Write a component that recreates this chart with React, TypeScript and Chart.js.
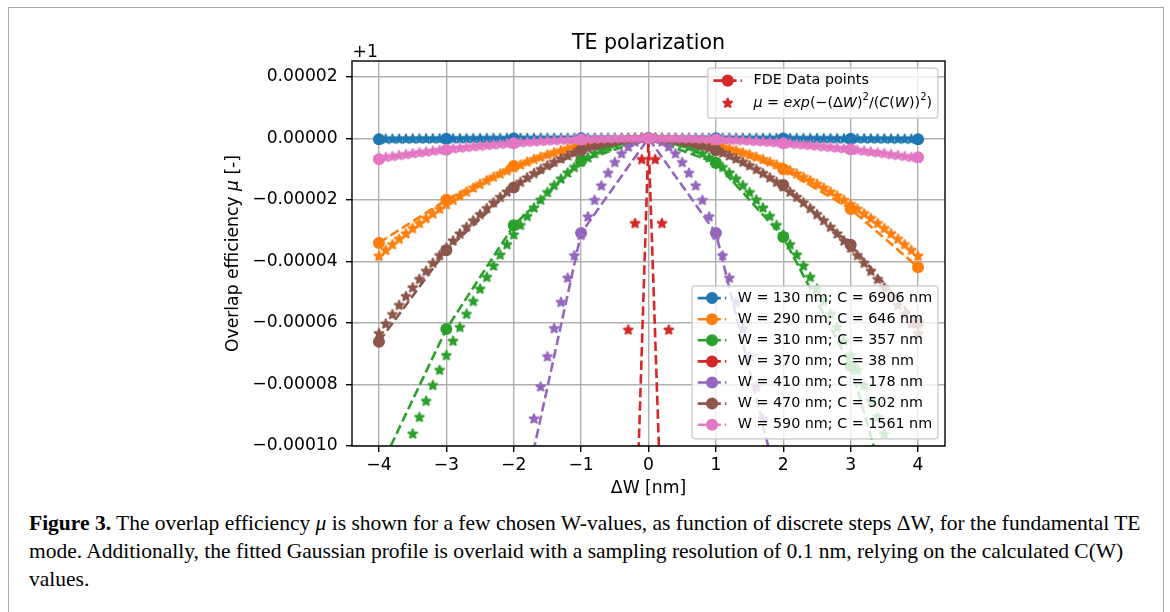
import React, { useEffect, useRef } from "react";
import { Chart, registerables } from "chart.js";

Chart.register(...registerables);

// ---------------- data ----------------
// All y values are (μ − 1) in units of 1e-6 (the axis carries the "+1" offset).
const W_VALUES = [130, 290, 310, 370, 410, 470, 590]; // nm
const C_VALUES = [6906, 646, 357, 38, 178, 502, 1561]; // nm
const COLORS = ["#1f77b4", "#ff7f0e", "#2ca02c", "#d62728", "#9467bd", "#8c564b", "#e377c2"];

const X_TICKS = [-4, -3, -2, -1, 0, 1, 2, 3, 4];
const Y_TICKS = [-100, -80, -60, -40, -20, 0, 20];

// FDE data points, ΔW in nm
const DW_FDE = [-4, -3, -2, -1, 0, 1, 2, 3, 4];
const FDE_W130 = [-0.34, -0.19, -0.08, -0.02, 0, -0.02, -0.08, -0.19, -0.34];
const FDE_W290 = [-34.0, -20.0, -9.0, -2.6, 0, -2.4, -10.1, -23.0, -41.9];
const FDE_W310 = [-108, -62.0, -28.3, -7.3, 0, -8.0, -32.1, -74, -150];
const FDE_W370 = [-10500, -6000, -2700, -690, 0, -650, -2700, -6000, -10500];
const FDE_W410 = [-505, -284, -131, -30.8, 0, -30.8, -120, -284, -505];
const FDE_W470 = [-66.1, -36.4, -16.0, -3.9, 0, -3.9, -15.2, -34.6, -60.0];
const FDE_W590 = [-6.8, -3.7, -1.6, -0.4, 0, -0.4, -1.6, -3.6, -6.2];

// Gaussian profile samples (0.1 nm resolution)
const DW_FIT = [
  -4.0, -3.9, -3.8, -3.7, -3.6, -3.5, -3.4, -3.3, -3.2, -3.1,
  -3.0, -2.9, -2.8, -2.7, -2.6, -2.5, -2.4, -2.3, -2.2, -2.1,
  -2.0, -1.9, -1.8, -1.7, -1.6, -1.5, -1.4, -1.3, -1.2, -1.1,
  -1.0, -0.9, -0.8, -0.7, -0.6, -0.5, -0.4, -0.3, -0.2, -0.1,
  0.0,
  0.1, 0.2, 0.3, 0.4, 0.5, 0.6, 0.7, 0.8, 0.9, 1.0,
  1.1, 1.2, 1.3, 1.4, 1.5, 1.6, 1.7, 1.8, 1.9, 2.0,
  2.1, 2.2, 2.3, 2.4, 2.5, 2.6, 2.7, 2.8, 2.9, 3.0,
  3.1, 3.2, 3.3, 3.4, 3.5, 3.6, 3.7, 3.8, 3.9, 4.0,
];
const FIT_W130 = [
  -0.34, -0.32, -0.30, -0.29, -0.27, -0.26, -0.24, -0.23, -0.21, -0.20,
  -0.19, -0.18, -0.16, -0.15, -0.14, -0.13, -0.12, -0.11, -0.10, -0.09,
  -0.08, -0.08, -0.07, -0.06, -0.05, -0.05, -0.04, -0.04, -0.03, -0.03,
  -0.02, -0.02, -0.01, -0.01, -0.01, -0.01, 0, 0, 0, 0,
  0,
  0, 0, 0, 0, -0.01, -0.01, -0.01, -0.01, -0.02, -0.02,
  -0.03, -0.03, -0.04, -0.04, -0.05, -0.05, -0.06, -0.07, -0.08, -0.08,
  -0.09, -0.10, -0.11, -0.12, -0.13, -0.14, -0.15, -0.16, -0.18, -0.19,
  -0.20, -0.21, -0.23, -0.24, -0.26, -0.27, -0.29, -0.30, -0.32, -0.34,
];
const FIT_W290 = [
  -38.34, -36.44, -34.60, -32.80, -31.05, -29.35, -27.70, -26.09, -24.54, -23.03,
  -21.56, -20.15, -18.78, -17.47, -16.20, -14.98, -13.80, -12.67, -11.60, -10.57,
  -9.58, -8.65, -7.76, -6.92, -6.13, -5.39, -4.70, -4.05, -3.45, -2.90,
  -2.40, -1.94, -1.53, -1.17, -0.86, -0.60, -0.38, -0.22, -0.10, -0.02,
  0,
  -0.02, -0.10, -0.22, -0.38, -0.60, -0.86, -1.17, -1.53, -1.94, -2.40,
  -2.90, -3.45, -4.05, -4.70, -5.39, -6.13, -6.92, -7.76, -8.65, -9.58,
  -10.57, -11.60, -12.67, -13.80, -14.98, -16.20, -17.47, -18.78, -20.15, -21.56,
  -23.03, -24.54, -26.09, -27.70, -29.35, -31.05, -32.80, -34.60, -36.44, -38.34,
];
const FIT_W310 = [
  null, null, null, null, null, -96.11, -90.70, -85.44, -80.34, -75.40,
  -70.61, -65.98, -61.51, -57.20, -53.04, -49.04, -45.19, -41.51, -37.97, -34.60,
  -31.38, -28.32, -25.42, -22.67, -20.09, -17.65, -15.38, -13.26, -11.30, -9.49,
  -7.85, -6.36, -5.02, -3.84, -2.82, -1.96, -1.26, -0.71, -0.31, -0.08,
  0,
  -0.08, -0.31, -0.71, -1.26, -1.96, -2.82, -3.84, -5.02, -6.36, -7.85,
  -9.49, -11.30, -13.26, -15.38, -17.65, -20.09, -22.67, -25.42, -28.32, -31.38,
  -34.60, -37.97, -41.51, -45.19, -49.04, -53.04, -57.20, -61.51, -65.98, -70.61,
  -75.40, -80.34, -85.44, -90.70, -96.11, null, null, null, null, null,
];
const FIT_W370 = [
  null, null, null, null, null, null, null, null, null, null,
  null, null, null, null, null, null, null, null, null, null,
  null, null, null, null, null, null, null, null, null, null,
  null, null, null, null, null, null, null, -62.33, -27.70, -6.93,
  0,
  -6.93, -27.70, -62.33, null, null, null, null, null, null, null,
  null, null, null, null, null, null, null, null, null, null,
  null, null, null, null, null, null, null, null, null, null,
  null, null, null, null, null, null, null, null, null, null,
];
const FIT_W410 = [
  null, null, null, null, null, null, null, null, null, null,
  null, null, null, null, null, null, null, null, null, null,
  null, null, null, -91.21, -80.79, -71.01, -61.86, -53.34, -45.45, -38.19,
  -31.56, -25.56, -20.20, -15.46, -11.36, -7.89, -5.05, -2.84, -1.26, -0.32,
  0,
  -0.32, -1.26, -2.84, -5.05, -7.89, -11.36, -15.46, -20.20, -25.56, -31.56,
  -38.19, -45.45, -53.34, -61.86, -71.01, -80.79, -91.21, null, null, null,
  null, null, null, null, null, null, null, null, null, null,
  null, null, null, null, null, null, null, null, null, null,
];
const FIT_W470 = [
  -63.49, -60.35, -57.30, -54.32, -51.43, -48.61, -45.87, -43.21, -40.63, -38.13,
  -35.71, -33.37, -31.11, -28.93, -26.82, -24.80, -22.86, -20.99, -19.21, -17.50,
  -15.87, -14.32, -12.86, -11.47, -10.16, -8.93, -7.78, -6.71, -5.71, -4.80,
  -3.97, -3.21, -2.54, -1.94, -1.43, -0.99, -0.63, -0.36, -0.16, -0.04,
  0,
  -0.04, -0.16, -0.36, -0.63, -0.99, -1.43, -1.94, -2.54, -3.21, -3.97,
  -4.80, -5.71, -6.71, -7.78, -8.93, -10.16, -11.47, -12.86, -14.32, -15.87,
  -17.50, -19.21, -20.99, -22.86, -24.80, -26.82, -28.93, -31.11, -33.37, -35.71,
  -38.13, -40.63, -43.21, -45.87, -48.61, -51.43, -54.32, -57.30, -60.35, -63.49,
];
const FIT_W590 = [
  -6.57, -6.24, -5.93, -5.62, -5.32, -5.03, -4.74, -4.47, -4.20, -3.94,
  -3.69, -3.45, -3.22, -2.99, -2.77, -2.57, -2.36, -2.17, -1.99, -1.81,
  -1.64, -1.48, -1.33, -1.19, -1.05, -0.92, -0.80, -0.69, -0.59, -0.50,
  -0.41, -0.33, -0.26, -0.20, -0.15, -0.10, -0.07, -0.04, -0.02, 0,
  0,
  0, -0.02, -0.04, -0.07, -0.10, -0.15, -0.20, -0.26, -0.33, -0.41,
  -0.50, -0.59, -0.69, -0.80, -0.92, -1.05, -1.19, -1.33, -1.48, -1.64,
  -1.81, -1.99, -2.17, -2.36, -2.57, -2.77, -2.99, -3.22, -3.45, -3.69,
  -3.94, -4.20, -4.47, -4.74, -5.03, -5.32, -5.62, -5.93, -6.24, -6.57,
];

const FDE_SERIES = [FDE_W130, FDE_W290, FDE_W310, FDE_W370, FDE_W410, FDE_W470, FDE_W590];
const FIT_SERIES = [FIT_W130, FIT_W290, FIT_W310, FIT_W370, FIT_W410, FIT_W470, FIT_W590];

const TITLE = "TE polarization";
const X_LABEL = "ΔW [nm]";
const Y_LABEL_PARTS: [string, string][] = [["Overlap efficiency ", "r"], ["μ", "i"], [" [-]", "r"]];
const OFFSET_TEXT = "+1";
const LEGEND_FDE = "FDE Data points";

// ---------------- styling ----------------
const FONT = '"DejaVu Sans", sans-serif';
const TICK_FS = 17.2;
const TITLE_FS = 20.6;
const LEG_FS = 14.3;
const LW = 2.6;
const DASH = [9.5, 4.1];
const MARKER_R = 5.16;
const MARKER_EW = 1.72;

function starPath(ctx: CanvasRenderingContext2D, cx: number, cy: number, r: number) {
  const inner = r * 0.381966;
  ctx.beginPath();
  for (let k = 0; k < 10; k++) {
    const a = -Math.PI / 2 + (k * Math.PI) / 5;
    const rr = k % 2 === 0 ? r : inner;
    const px = cx + rr * Math.cos(a);
    const py = cy + rr * Math.sin(a);
    if (k === 0) ctx.moveTo(px, py);
    else ctx.lineTo(px, py);
  }
  ctx.closePath();
}

function drawStar(ctx: CanvasRenderingContext2D, cx: number, cy: number, color: string) {
  ctx.save();
  starPath(ctx, cx, cy, MARKER_R);
  ctx.fillStyle = color;
  ctx.fill();
  ctx.lineWidth = MARKER_EW;
  ctx.lineJoin = "bevel";
  ctx.strokeStyle = color;
  ctx.stroke();
  ctx.restore();
}

function makeStarCanvas(color: string): HTMLCanvasElement {
  const c = document.createElement("canvas");
  c.width = 16;
  c.height = 16;
  const ctx = c.getContext("2d")!;
  drawStar(ctx, 8, 8, color);
  return c;
}

function minusFmt(s: string, neg: boolean) {
  return (neg ? "\u2212" : "") + s;
}

const MATH_SEGMENTS: [string, string][] = [
  ["μ", "i"], [" = ", "r"], ["exp", "i"], ["(−(", "r"], ["Δ", "r"], ["W", "i"], [")", "r"],
  ["2", "s"], ["/(", "r"], ["C", "i"], ["(", "r"], ["W", "i"], ["))", "r"], ["2", "s"], [")", "r"],
];

function segFont(st: string, fs: number) {
  if (st === "i") return `italic ${fs}px ${FONT}`;
  if (st === "s") return `${fs * 0.7}px ${FONT}`;
  return `${fs}px ${FONT}`;
}

function segsWidth(ctx: CanvasRenderingContext2D, segs: [string, string][], fs: number) {
  let w = 0;
  for (const [t, st] of segs) {
    ctx.font = segFont(st, fs);
    w += ctx.measureText(t).width;
  }
  return w;
}

function drawSegs(ctx: CanvasRenderingContext2D, segs: [string, string][], fs: number, x: number, y: number) {
  let cx = x;
  for (const [t, st] of segs) {
    ctx.font = segFont(st, fs);
    ctx.fillText(t, cx, st === "s" ? y - 5.5 : y);
    cx += ctx.measureText(t).width;
  }
}

function legendFrame(ctx: CanvasRenderingContext2D, x: number, y: number, w: number, h: number) {
  ctx.save();
  ctx.beginPath();
  const r = 3;
  ctx.moveTo(x + r, y);
  ctx.lineTo(x + w - r, y);
  ctx.arcTo(x + w, y, x + w, y + r, r);
  ctx.lineTo(x + w, y + h - r);
  ctx.arcTo(x + w, y + h, x + w - r, y + h, r);
  ctx.lineTo(x + r, y + h);
  ctx.arcTo(x, y + h, x, y + h - r, r);
  ctx.lineTo(x, y + r);
  ctx.arcTo(x, y, x + r, y, r);
  ctx.closePath();
  ctx.fillStyle = "rgba(255,255,255,0.8)";
  ctx.fill();
  ctx.strokeStyle = "rgba(204,204,204,0.8)";
  ctx.lineWidth = 1.7;
  ctx.stroke();
  ctx.restore();
}

function lineHandle(ctx: CanvasRenderingContext2D, x: number, y: number, color: string) {
  ctx.save();
  ctx.strokeStyle = color;
  ctx.lineWidth = LW;
  ctx.setLineDash(DASH);
  ctx.lineCap = "butt";
  ctx.beginPath();
  ctx.moveTo(x, y);
  ctx.lineTo(x + 28.6, y);
  ctx.stroke();
  ctx.setLineDash([]);
  ctx.beginPath();
  ctx.arc(x + 14.3, y, MARKER_R, 0, Math.PI * 2);
  ctx.fillStyle = color;
  ctx.fill();
  ctx.lineWidth = MARKER_EW;
  ctx.stroke();
  ctx.restore();
}

const overlayPlugin = {
  id: "overlay",
  afterDatasetsDraw(chart: any) {
    const { ctx, chartArea: a } = chart;
    ctx.save();
    ctx.strokeStyle = "#000";
    ctx.lineWidth = 1.4;
    ctx.strokeRect(a.left, a.top, a.right - a.left, a.bottom - a.top);
    ctx.restore();
  },
  afterDraw(chart: any) {
    const { ctx, chartArea: a } = chart;
    ctx.save();
    ctx.fillStyle = "#000";

    // y-axis label (with italic μ), rotated
    const yw = segsWidth(ctx, Y_LABEL_PARTS, TICK_FS);
    ctx.save();
    ctx.translate(225, (a.top + a.bottom) / 2);
    ctx.rotate(-Math.PI / 2);
    ctx.textBaseline = "middle";
    ctx.textAlign = "left";
    drawSegs(ctx, Y_LABEL_PARTS, TICK_FS, -yw / 2, 0);
    ctx.restore();

    // offset text
    ctx.font = `${TICK_FS}px ${FONT}`;
    ctx.textBaseline = "alphabetic";
    ctx.textAlign = "left";
    ctx.fillText(OFFSET_TEXT, a.left + 0.5, a.top - 4.5);

    // upper legend
    const mw = segsWidth(ctx, MATH_SEGMENTS, LEG_FS);
    ctx.font = `${LEG_FS}px ${FONT}`;
    const fw = ctx.measureText(LEGEND_FDE).width;
    const uw = 45.7 + Math.max(mw, fw) + 5.7;
    const ux = a.right - 7.2 - uw;
    const uy = a.top + 7.2;
    legendFrame(ctx, ux, uy, uw, 50);
    ctx.textBaseline = "middle";
    ctx.fillStyle = "#000";
    lineHandle(ctx, ux + 5.7, uy + 12.4, COLORS[3]);
    ctx.font = `${LEG_FS}px ${FONT}`;
    ctx.fillText(LEGEND_FDE, ux + 45.7, uy + 12.4);
    drawStar(ctx, ux + 20, uy + 35, COLORS[3]);
    ctx.fillStyle = "#000";
    drawSegs(ctx, MATH_SEGMENTS, LEG_FS, ux + 45.7, uy + 35);

    // lower legend
    ctx.font = `${LEG_FS}px ${FONT}`;
    const labels = W_VALUES.map((w, i) => `W = ${w} nm; C = ${C_VALUES[i]} nm`);
    let tw = 0;
    labels.forEach((l) => (tw = Math.max(tw, ctx.measureText(l).width)));
    const lw = 45.7 + tw + 5.7;
    const lh = 153;
    const lx = a.right - 7.2 - lw;
    const ly = a.bottom - 7.2 - lh;
    legendFrame(ctx, lx, ly, lw, lh);
    labels.forEach((l, i) => {
      const cy = ly + 12.3 + 21.1 * i;
      lineHandle(ctx, lx + 5.7, cy, COLORS[i]);
      ctx.fillStyle = "#000";
      ctx.font = `${LEG_FS}px ${FONT}`;
      ctx.textBaseline = "middle";
      ctx.fillText(l, lx + 45.7, cy);
    });
    ctx.restore();
  },
};

export default function App() {
  const ref = useRef<HTMLCanvasElement>(null);

  useEffect(() => {
    const datasets: any[] = [];
    const n = W_VALUES.length * 2;
    W_VALUES.forEach((w, i) => {
      const color = COLORS[i];
      datasets.push({
        label: `W = ${w} nm; C = ${C_VALUES[i]} nm`,
        data: DW_FDE.map((x, k) => ({ x, y: FDE_SERIES[i][k] })),
        borderColor: color,
        backgroundColor: color,
        borderWidth: LW,
        borderDash: DASH,
        borderJoinStyle: "round",
        pointStyle: "circle",
        pointRadius: MARKER_R,
        pointBorderWidth: MARKER_EW,
        pointBackgroundColor: color,
        pointBorderColor: color,
        showLine: true,
        tension: 0,
        clip: 0,
        order: n - datasets.length,
      });
      const star = makeStarCanvas(color);
      datasets.push({
        label: `fit W = ${w} nm`,
        data: DW_FIT.map((x, k) => ({ x, y: FIT_SERIES[i][k] })).filter((p) => p.y !== null),
        borderColor: color,
        backgroundColor: color,
        showLine: false,
        pointStyle: star,
        pointRadius: 6,
        clip: 0,
        order: n - datasets.length,
      });
    });

    const tickFont = { family: FONT, size: TICK_FS };
    const chart = new Chart(ref.current!, {
      type: "line",
      data: { datasets },
      plugins: [overlayPlugin],
      options: {
        responsive: false,
        animation: false,
        devicePixelRatio: 1,
        events: [],
        layout: { padding: { left: 214.6, right: 218, top: 0, bottom: 8.9 } },
        plugins: {
          legend: { display: false },
          tooltip: { enabled: false },
          title: {
            display: true,
            text: TITLE,
            color: "#000",
            fullSize: false,
            font: { family: FONT, size: TITLE_FS, weight: "normal" },
            padding: { top: 23.5, bottom: 4.8 },
          },
        },
        scales: {
          x: {
            type: "linear",
            min: -4.4,
            max: 4.4,
            afterBuildTicks: (s: any) => {
              s.ticks = X_TICKS.map((v) => ({ value: v }));
            },
            afterFit: (s: any) => {
              s.height = 53.1;
            },
            ticks: {
              color: "#000",
              font: tickFont,
              padding: 3.4,
              maxRotation: 0,
              autoSkip: false,
              includeBounds: false,
              callback: (v: any) => minusFmt(String(Math.abs(Number(v))), Number(v) < 0),
            },
            grid: { color: "#b0b0b0", lineWidth: 1.4, tickLength: 6, tickColor: "#000", tickWidth: 1.4 },
            border: { display: false },
            title: {
              display: true,
              text: X_LABEL,
              color: "#000",
              font: { family: FONT, size: TICK_FS },
              padding: { top: 0, bottom: 0 },
            },
          },
          y: {
            type: "linear",
            min: -100,
            max: 25.1,
            afterBuildTicks: (s: any) => {
              s.ticks = Y_TICKS.map((v) => ({ value: v }));
            },
            afterFit: (s: any) => {
              s.width = 128.4;
            },
            ticks: {
              color: "#000",
              font: tickFont,
              padding: 8.3,
              autoSkip: false,
              includeBounds: false,
              callback: (v: any) => {
                const val = Number(v) * 1e-6;
                return minusFmt(Math.abs(val).toFixed(5), val < -1e-12);
              },
            },
            grid: { color: "#b0b0b0", lineWidth: 1.4, tickLength: 6, tickColor: "#000", tickWidth: 1.4 },
            border: { display: false },
          },
        },
      } as any,
    });
    return () => chart.destroy();
  }, []);

  return (
    <div
      style={{
        position: "absolute",
        left: 8,
        top: 7,
        width: 1156,
        height: 605,
        boxSizing: "border-box",
        border: "1px solid #a8a8a8",
        borderBottom: "none",
        background: "#fff",
      }}
    >
      <canvas
        ref={ref}
        width={1154}
        height={500}
        style={{ position: "absolute", left: 0, top: 0, width: 1154, height: 500 }}
      />
      <div
        style={{
          position: "absolute",
          left: 20,
          top: 501,
          fontFamily: '"Liberation Serif", serif',
          fontSize: 21.5,
          lineHeight: "28px",
          color: "#000",
          whiteSpace: "nowrap",
        }}
      >
        <div>
          <b>Figure 3.</b> The overlap efficiency <i>μ</i> is shown for a few chosen W-values, as function of
          discrete steps ΔW, for the fundamental TE
        </div>
        <div>
          mode. Additionally, the fitted Gaussian profile is overlaid with a sampling resolution of 0.1 nm, relying
          on the calculated C(W)
        </div>
        <div>values.</div>
      </div>
    </div>
  );
}
